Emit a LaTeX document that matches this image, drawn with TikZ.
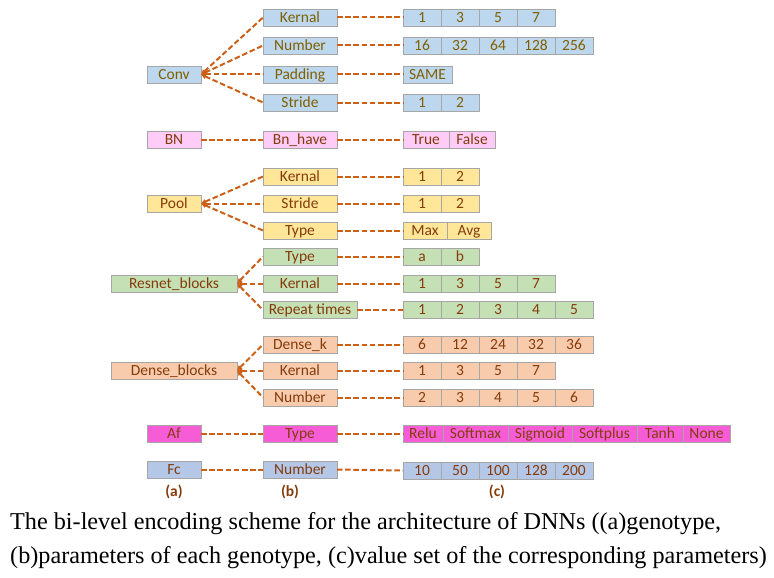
\documentclass[tikz,border=0pt]{standalone}
\usepackage{fontspec}
\setmainfont{Carlito}
\newfontfamily\capfont{Liberation Serif}
\usetikzlibrary{arrows.meta}
\definecolor{bordergray}{HTML}{A6A6A6}
\definecolor{convblue}{HTML}{BDD7EE}
\definecolor{bnpink}{HTML}{FFCCF8}
\definecolor{poolyellow}{HTML}{FFE699}
\definecolor{resgreen}{HTML}{C5E0B4}
\definecolor{densesalmon}{HTML}{F8CBAD}
\definecolor{afmagenta}{HTML}{F65CD6}
\definecolor{fcblue}{HTML}{B4C7E7}
\definecolor{olivetext}{HTML}{7F6000}
\definecolor{browntext}{HTML}{843C0C}
\definecolor{linkorange}{HTML}{CC5F16}
\tikzset{
  box/.style={draw=bordergray, line width=0.9pt, minimum height=17pt, inner sep=0pt, outer sep=0pt,
    text height=11pt, text depth=1.2pt, font=\fontsize{15.5}{17}\selectfont},
  convc/.style={box, fill=convblue, text=olivetext},
  bnc/.style={box, fill=bnpink, text=browntext},
  poolc/.style={box, fill=poolyellow, text=browntext},
  resc/.style={box, fill=resgreen, text=browntext},
  densec/.style={box, fill=densesalmon, text=browntext},
  afc/.style={box, fill=afmagenta, text=browntext},
  fcc/.style={box, fill=fcblue, text=browntext},
  acol/.style={minimum width=54pt, anchor=center},
  awide/.style={minimum width=126pt, anchor=center},
  bcol/.style={minimum width=74pt, anchor=west},
  dlink/.style={draw=linkorange, line width=2pt, dash pattern=on 5.5pt off 2.7pt},
  tolink/.style={dlink, {Latex[length=5pt,width=5.5pt]}-},
  sublabel/.style={font=\bfseries\fontsize{15.5}{17}\selectfont, text=browntext},
}
\newcommand\valrow[4]{%
  \node[inner sep=0pt, outer sep=0pt, minimum size=0pt] (#1-0) at (403,#2) {};
  \foreach \w/\t [count=\i, remember=\i as \j (initially 0)] in {#4} {
    \node[#3, minimum width=\w, anchor=west] (#1-\i) at (#1-\j.east) {\t};
  }
}
\begin{document}
\begin{tikzpicture}[x=1pt, y=-1pt]
\useasboundingbox (0,0) rectangle (774,578);
% ---- Conv
\node[convc, acol] (conv) at (174,74.5) {Conv};
\node[convc, bcol] (convk) at (263,17.5) {Kernal};
\node[convc, bcol] (convn) at (263,45.5) {Number};
\node[convc, bcol] (convp) at (263,74.5) {Padding};
\node[convc, bcol] (convs) at (263,102.5) {Stride};
\valrow{vck}{17.5}{convc}{38pt/1,38pt/3,38pt/5,38pt/7}
\valrow{vcn}{45.5}{convc}{38pt/16,38pt/32,38pt/64,38pt/128,38pt/256}
\valrow{vcp}{74.5}{convc}{49pt/SAME}
\valrow{vcs}{102.5}{convc}{38pt/1,38pt/2}
\foreach \c in {convk,convn,convp,convs} \draw[tolink] (conv.east) -- (\c.west);
\draw[dlink] (convk.east) -- (vck-1.west);
\draw[dlink] (convn.east) -- (vcn-1.west);
\draw[dlink] (convp.east) -- (vcp-1.west);
\draw[dlink] (convs.east) -- (vcs-1.west);
% ---- BN
\node[bnc, acol] (bn) at (174,139.5) {BN};
\node[bnc, bcol] (bnh) at (263,139.5) {Bn\_have};
\valrow{vbn}{139.5}{bnc}{46pt/True,46pt/False}
\draw[dlink] (bn.east) -- (bnh.west);
\draw[dlink] (bnh.east) -- (vbn-1.west);
% ---- Pool
\node[poolc, acol] (pool) at (174,203.5) {Pool};
\node[poolc, bcol] (poolk) at (263,176.5) {Kernal};
\node[poolc, bcol] (pools) at (263,203.5) {Stride};
\node[poolc, bcol] (poolt) at (263,230.5) {Type};
\valrow{vpk}{176.5}{poolc}{38pt/1,38pt/2}
\valrow{vps}{203.5}{poolc}{38pt/1,38pt/2}
\valrow{vpt}{230.5}{poolc}{44pt/Max,44pt/Avg}
\foreach \c in {poolk,pools,poolt} \draw[tolink] (pool.east) -- (\c.west);
\draw[dlink] (poolk.east) -- (vpk-1.west);
\draw[dlink] (pools.east) -- (vps-1.west);
\draw[dlink] (poolt.east) -- (vpt-1.west);
% ---- Resnet
\node[resc, awide] (res) at (174,283.5) {Resnet\_blocks};
\node[resc, bcol] (rest) at (263,256.5) {Type};
\node[resc, bcol] (resk) at (263,283.5) {Kernal};
\node[resc, bcol, minimum width=94pt] (resr) at (263,310) {Repeat times};
\valrow{vrt}{256.5}{resc}{38pt/a,38pt/b}
\valrow{vrk}{283.5}{resc}{38pt/1,38pt/3,38pt/5,38pt/7}
\valrow{vrr}{310}{resc}{38pt/1,38pt/2,38pt/3,38pt/4,38pt/5}
\foreach \c in {rest,resk,resr} \draw[tolink] (res.east) -- (\c.west);
\draw[dlink] (rest.east) -- (vrt-1.west);
\draw[dlink] (resk.east) -- (vrk-1.west);
\draw[dlink] (resr.east) -- (vrr-1.west);
% ---- Dense
\node[densec, awide] (den) at (174,370.5) {Dense\_blocks};
\node[densec, bcol] (dend) at (263,344.5) {Dense\_k};
\node[densec, bcol] (denk) at (263,370.5) {Kernal};
\node[densec, bcol] (denn) at (263,397.5) {Number};
\valrow{vdd}{344.5}{densec}{38pt/6,38pt/12,38pt/24,38pt/32,38pt/36}
\valrow{vdk}{370.5}{densec}{38pt/1,38pt/3,38pt/5,38pt/7}
\valrow{vdn}{397.5}{densec}{38pt/2,38pt/3,38pt/4,38pt/5,38pt/6}
\foreach \c in {dend,denk,denn} \draw[tolink] (den.east) -- (\c.west);
\draw[dlink] (dend.east) -- (vdd-1.west);
\draw[dlink] (denk.east) -- (vdk-1.west);
\draw[dlink] (denn.east) -- (vdn-1.west);
% ---- Af
\node[afc, acol] (af) at (174,433.5) {Af};
\node[afc, bcol] (aft) at (263,433.5) {Type};
\valrow{vaf}{433.5}{afc}{40pt/Relu,65pt/Softmax,64pt/Sigmoid,65pt/Softplus,46pt/Tanh,47pt/None}
\draw[dlink] (af.east) -- (aft.west);
\draw[dlink] (aft.east) -- (vaf-1.west);
% ---- Fc
\node[fcc, acol] (fc) at (174,469.5) {Fc};
\node[fcc, bcol] (fcn) at (263,469.5) {Number};
\valrow{vfc}{470.5}{fcc}{38pt/10,38pt/50,38pt/100,38pt/128,38pt/200}
\draw[dlink] (fc.east) -- (fcn.west);
\draw[dlink] (fcn.east) -- (vfc-1.west);
% ---- column labels
\node[sublabel] (la) at (174,492) {(a)};
\node[sublabel] (lb) at (290,492) {(b)};
\node[sublabel] (lc) at (497,492) {(c)};
% ---- caption
\node[anchor=base west, inner sep=0pt, font=\capfont\fontsize{24.2}{34}\selectfont] (cap1) at (10,529)
  {The bi-level encoding scheme for the architecture of DNNs ((a)genotype,};
\node[anchor=base west, inner sep=0pt, font=\capfont\fontsize{24.2}{34}\selectfont] (cap2) at (10,563)
  {(b)parameters of each genotype, (c)value set of the corresponding parameters)};
\end{tikzpicture}
\end{document}
